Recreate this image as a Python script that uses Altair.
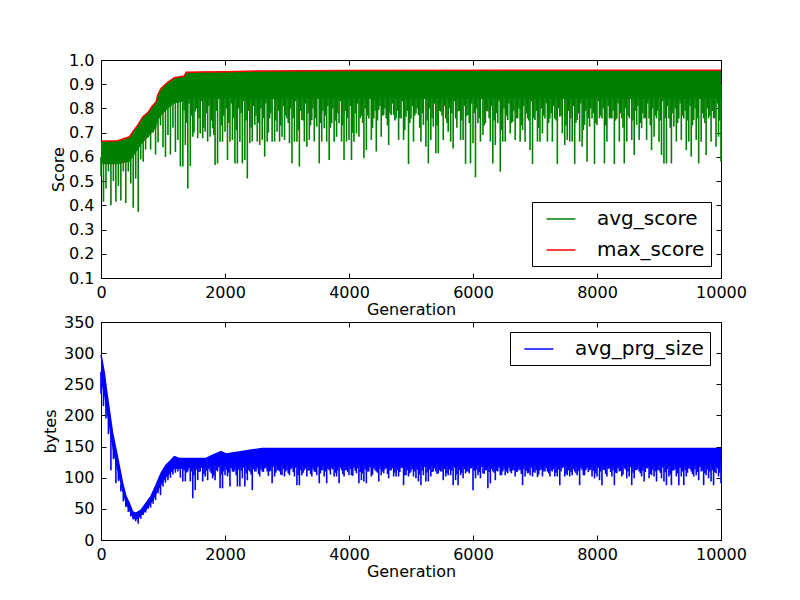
import altair as alt
import pandas as pd

# ---------------- data ----------------
x_ticks = [0, 2000, 4000, 6000, 8000, 10000]
score_ticks = [0.1, 0.2, 0.3, 0.4, 0.5, 0.6, 0.7, 0.8, 0.9, 1.0]
bytes_ticks = [0, 50, 100, 150, 200, 250, 300, 350]

# max_score curve (generation, value)
max_gen = [0, 270, 460, 515, 595, 676, 756, 820, 890, 916, 970, 1077, 1184,
           1345, 1372, 1600, 2000, 2600, 4000, 7000, 10000]
max_val = [0.665, 0.667, 0.683, 0.704, 0.732, 0.766, 0.783, 0.807, 0.828, 0.856,
           0.883, 0.908, 0.927, 0.934, 0.949, 0.950, 0.952, 0.955, 0.957, 0.958, 0.958]
# lower edge of the dense avg_score band at the same generations
avg_band_lo = [0.57, 0.57, 0.58, 0.60, 0.63, 0.66, 0.68, 0.70, 0.72, 0.75,
               0.77, 0.80, 0.82, 0.83, 0.84, 0.84, 0.84, 0.84, 0.84, 0.84, 0.84]

# avg_score downward excursions: deep ones every 40 generations,
# shallower ones in between
early_gen = list(range(0, 1281, 40))
late_gen = list(range(1320, 10001, 40))
mid_gen = list(range(1340, 9981, 40))
score_spike_early = [0.52, 0.415, 0.47, 0.54, 0.40, 0.50, 0.415, 0.48, 0.42, 0.54,
                     0.41, 0.54, 0.49, 0.39, 0.51, 0.374, 0.59, 0.58, 0.63, 0.68,
                     0.63, 0.70, 0.61, 0.66, 0.73, 0.64, 0.60, 0.69, 0.61, 0.72,
                     0.62, 0.67, 0.56]
score_spike_early_top = [0.60, 0.60, 0.60, 0.60, 0.60, 0.60, 0.60, 0.60, 0.61, 0.61,
                         0.61, 0.62, 0.62, 0.63, 0.64, 0.66, 0.68, 0.70, 0.71, 0.72,
                         0.74, 0.75, 0.76, 0.79, 0.81, 0.83, 0.84, 0.85, 0.86, 0.87,
                         0.88, 0.88, 0.89]
score_spike_late = [
    0.560, 0.649, 0.470, 0.562, 0.683, 0.787, 0.677, 0.697, 0.677, 0.704,
    0.663, 0.683, 0.718, 0.566, 0.573, 0.663, 0.663, 0.704, 0.587, 0.663,
    0.670, 0.573, 0.573, 0.663, 0.573, 0.587, 0.511, 0.656, 0.663, 0.732,
    0.663, 0.649, 0.670, 0.601, 0.663, 0.759, 0.663, 0.663, 0.704, 0.663,
    0.683, 0.670, 0.759, 0.656, 0.573, 0.663, 0.663, 0.560, 0.752, 0.663,
    0.642, 0.670, 0.752, 0.663, 0.725, 0.573, 0.663, 0.718, 0.663, 0.587,
    0.739, 0.663, 0.683, 0.739, 0.663, 0.587, 0.663, 0.670, 0.587, 0.663,
    0.697, 0.683, 0.770,
    0.594, 0.628, 0.759, 0.670, 0.759, 0.622, 0.794, 0.683, 0.773, 0.759,
    0.649, 0.773, 0.773, 0.759, 0.670, 0.759, 0.670, 0.766, 0.571, 0.759,
    0.663, 0.780, 0.773, 0.663, 0.732, 0.642, 0.573, 0.670, 0.725, 0.615,
    0.615, 0.787, 0.670, 0.759, 0.704, 0.663, 0.635, 0.759, 0.787, 0.670,
    0.670, 0.571, 0.773, 0.573, 0.656, 0.516, 0.739, 0.663, 0.690, 0.739,
    0.787, 0.663, 0.573, 0.649, 0.739, 0.539, 0.663, 0.663, 0.752, 0.697,
    0.745, 0.670, 0.759, 0.663, 0.711, 0.663, 0.759, 0.628, 0.571, 0.752,
    0.663, 0.663,
    0.697, 0.759, 0.663, 0.759, 0.663, 0.759, 0.571, 0.766, 0.697, 0.649,
    0.670, 0.663, 0.663, 0.571, 0.752, 0.663, 0.642, 0.732, 0.580, 0.725,
    0.759, 0.571, 0.732, 0.759, 0.759, 0.573, 0.663, 0.759, 0.759, 0.571,
    0.759, 0.663, 0.759, 0.573, 0.663, 0.759, 0.670, 0.608, 0.732, 0.670,
    0.718, 0.759, 0.670, 0.759, 0.628, 0.683, 0.759, 0.663, 0.608, 0.573,
    0.573, 0.759, 0.573, 0.725, 0.663, 0.759, 0.670, 0.759, 0.628, 0.663,
    0.601, 0.752, 0.670, 0.573, 0.663, 0.759, 0.608, 0.759, 0.663, 0.759,
    0.642, 0.683, 0.580]
score_spike_mid = [
    0.79, 0.74, 0.82, 0.77, 0.70, 0.80, 0.76, 0.83, 0.72, 0.78,
    0.81, 0.75, 0.69, 0.79, 0.84, 0.73, 0.77, 0.80, 0.74, 0.82,
    0.76, 0.71, 0.80, 0.78, 0.83, 0.75, 0.79, 0.72, 0.81, 0.77,
    0.74, 0.80, 0.76, 0.82, 0.70, 0.78, 0.84, 0.75, 0.79, 0.73,
    0.81, 0.77, 0.74, 0.80, 0.76, 0.83, 0.71, 0.79, 0.75, 0.82,
    0.78, 0.73, 0.80, 0.76, 0.84, 0.74, 0.79, 0.77, 0.81, 0.72,
    0.80, 0.75, 0.78, 0.83, 0.73, 0.79, 0.76, 0.81, 0.70, 0.78,
    0.82, 0.76, 0.74, 0.80, 0.77, 0.84, 0.72, 0.79, 0.75, 0.81,
    0.77, 0.80, 0.73, 0.78, 0.82, 0.75, 0.79, 0.76, 0.83, 0.71,
    0.79, 0.74, 0.81, 0.77, 0.80, 0.72, 0.78, 0.84, 0.75, 0.80,
    0.76, 0.82, 0.73, 0.79, 0.77, 0.81, 0.74, 0.80, 0.78, 0.83,
    0.72, 0.79, 0.75, 0.81, 0.77, 0.74, 0.82, 0.78, 0.80, 0.76,
    0.84, 0.73, 0.79, 0.76, 0.81, 0.75, 0.78, 0.83, 0.71, 0.80,
    0.77, 0.82, 0.74, 0.79, 0.76, 0.80, 0.73, 0.81, 0.78, 0.75,
    0.83, 0.76, 0.79, 0.72, 0.80, 0.77, 0.82, 0.74, 0.78, 0.81,
    0.75, 0.80, 0.77, 0.84, 0.73, 0.79, 0.76, 0.81, 0.74, 0.78,
    0.82, 0.71, 0.79, 0.76, 0.80, 0.78, 0.74, 0.83, 0.77, 0.80,
    0.73, 0.81, 0.76, 0.79, 0.75, 0.82, 0.78, 0.72, 0.80, 0.77,
    0.84, 0.75, 0.79, 0.81, 0.74, 0.78, 0.76, 0.82, 0.73, 0.80,
    0.77, 0.79, 0.75, 0.83, 0.76, 0.81, 0.72, 0.78, 0.80, 0.74,
    0.82, 0.77, 0.79, 0.75, 0.81, 0.73, 0.80, 0.76, 0.84, 0.78,
    0.74, 0.80, 0.77, 0.79, 0.76, 0.82, 0.75]
score_spike_late_top = 0.9

# avg_prg_size envelope (generation, upper edge, lower edge of the dense band)
prg_gen = [0, 54, 81, 134, 188, 242, 296, 349, 403, 457, 511, 564, 645, 726, 806,
           887, 968, 1048, 1129, 1183, 1263, 1425, 1694, 1801, 1935, 2016, 2200,
           2400, 2600, 10000]
prg_hi = [297, 268, 246, 209, 171, 145, 118, 91, 70, 59, 45, 43, 48, 59, 70,
          88, 107, 120, 128, 134, 131, 131, 131, 136, 142, 138, 141, 144, 147, 147]
prg_lo = [255, 230, 210, 180, 145, 120, 97, 75, 57, 46, 35, 32, 38, 47, 58,
          72, 88, 100, 108, 114, 114, 116, 117, 119, 120, 119, 119, 119, 119, 119]

prg_spike_early = [235, 215, 195, 170, 112, 130, 91, 95, 78, 62,
                   53, 45, 38, 33, 30, 26, 34, 40, 44, 50,
                   52, 58, 64, 75, 72, 86, 92, 96, 100, 105,
                   108, 110, 100]
prg_spike_early_top = [270, 250, 225, 200, 170, 150, 130, 110, 90, 75,
                       62, 52, 44, 40, 38, 40, 43, 48, 53, 60,
                       65, 73, 80, 90, 97, 105, 110, 115, 118, 122,
                       122, 122, 122]
prg_spike_late = [
    94, 94, 110, 94, 67, 80, 96, 110, 94, 102,
    96, 110, 99, 96, 110, 83, 83, 104, 102, 86,
    110, 112, 86, 86, 99, 86, 96, 110, 80, 110,
    115, 102, 110, 115, 110, 110, 91, 102, 112, 110,
    104, 102, 112, 104, 115, 102, 88, 88, 104, 112,
    102, 112, 102, 110, 104, 91, 112, 102, 91, 112,
    115, 102, 102, 91, 112, 102, 112, 104, 104, 115,
    107, 91, 96,
    94, 91, 110, 102, 115, 110, 94, 104, 107, 115,
    99, 112, 102, 102, 102, 115, 88, 104, 102, 110,
    102, 99, 94, 88, 104, 94, 94, 102, 110, 110,
    107, 110, 96, 102, 104, 104, 88, 96, 88, 104,
    99, 107, 110, 115, 80, 99, 104, 99, 107, 112,
    83, 91, 110, 96, 110, 104, 110, 104, 107, 110,
    112, 102, 110, 112, 88, 102, 107, 104, 102, 108,
    101, 112,
    102, 110, 110, 102, 110, 102, 102, 88, 115, 102,
    104, 102, 104, 110, 104, 88, 112, 104, 115, 112,
    102, 99, 102, 96, 88, 112, 102, 115, 102, 88,
    107, 110, 102, 115, 99, 102, 88, 99, 112, 110,
    102, 94, 115, 99, 104, 102, 94, 112, 99, 94,
    88, 102, 88, 112, 102, 88, 102, 88, 102, 115,
    110, 102, 104, 96, 110, 88, 104, 99, 94, 88,
    107, 102, 91]
prg_spike_mid = [
    112, 108, 115, 110, 104, 113, 109, 116, 106, 111,
    114, 107, 103, 112, 117, 105, 110, 113, 108, 115,
    109, 104, 113, 111, 116, 107, 112, 105, 114, 110,
    106, 113, 109, 115, 103, 111, 117, 108, 112, 105,
    114, 110, 107, 113, 109, 116, 104, 112, 108, 115,
    111, 106, 113, 109, 117, 107, 112, 110, 114, 105,
    113, 108, 111, 116, 106, 112, 109, 114, 103, 111,
    115, 109, 107, 113, 110, 117, 105, 112, 108, 114,
    110, 113, 106, 111, 115, 108, 112, 109, 116, 104,
    112, 107, 114, 110, 113, 105, 111, 117, 108, 113,
    109, 115, 106, 112, 110, 114, 107, 113, 111, 116,
    105, 112, 108, 114, 110, 107, 115, 111, 113, 109,
    117, 106, 112, 109, 114, 108, 111, 116, 104, 113,
    110, 115, 107, 112, 109, 113, 106, 114, 111, 108,
    116, 109, 112, 105, 113, 110, 115, 107, 111, 114,
    108, 113, 110, 117, 106, 112, 109, 114, 107, 111,
    115, 104, 112, 109, 113, 111, 107, 116, 110, 113,
    106, 114, 109, 112, 108, 115, 111, 105, 113, 110,
    117, 108, 112, 114, 107, 111, 109, 115, 106, 113,
    110, 112, 108, 116, 109, 114, 105, 111, 113, 107,
    115, 110, 112, 108, 114, 106, 113, 109, 117, 111,
    107, 113, 110, 112, 109, 115, 108]
prg_spike_late_top = 125

# ---------------- chart ----------------
W, H = 620, 218
GREEN, RED, BLUE = "#008000", "#ff0000", "#0000ff"
FONT = "DejaVu Sans"
SPIKE_W = 1.6

xs = alt.Scale(domain=[0, 10000], nice=False, zero=False)
ys_score = alt.Scale(domain=[0.1, 1.0], nice=False, zero=False)
ys_bytes = alt.Scale(domain=[0, 350], nice=False, zero=False)


def main_x():
    return alt.Axis(values=x_ticks, format="d", title="Generation", ticks=False,
                    tickSize=0, domain=False, grid=False, labelPadding=6,
                    titlePadding=1, labelFlush=False, labelOverlap=False)


def tick_layers(df, xf, yf, ys, xvals, yvals):
    layers = []
    for xo, yo in (("top", "right"), ("bottom", "left")):
        layers.append(
            alt.Chart(df).mark_line(opacity=0).encode(
                x=alt.X(xf, type="quantitative", scale=xs,
                        axis=alt.Axis(orient=xo, offset=-H, values=xvals, labels=False,
                                      domain=False, ticks=True, tickSize=5,
                                      tickColor="black", tickWidth=1, grid=False,
                                      title=None)),
                y=alt.Y(yf, type="quantitative", scale=ys,
                        axis=alt.Axis(orient=yo, offset=-W, values=yvals, labels=False,
                                      domain=False, ticks=True, tickSize=5,
                                      tickColor="black", tickWidth=1, grid=False,
                                      title=None)),
            )
        )
    return layers


def spikes(df, color, ys, top):
    return alt.Chart(df).mark_rule(color=color, strokeWidth=SPIKE_W).encode(
        x=alt.X("gen:Q", scale=xs, axis=None),
        y=alt.Y("val:Q", scale=ys, axis=None),
        y2=top,
    )


def legend(x, y):
    return alt.Legend(orient="none", legendX=x, legendY=y, title=None,
                      labelFontSize=20, labelFont=FONT, labelColor="black",
                      symbolType="M-0.26,0H2.64", symbolSize=400,
                      symbolStrokeWidth=1.5, strokeColor="black",
                      fillColor="white", padding=6, rowPadding=10,
                      labelOffset=37, cornerRadius=0)


# ---- top panel ----
band_df = pd.DataFrame({"gen": max_gen, "hi": max_val, "lo": avg_band_lo,
                        "series": ["max_score"] * len(max_gen)})
early_df = pd.DataFrame({"gen": early_gen, "val": score_spike_early,
                         "top": score_spike_early_top})
late_df = pd.DataFrame({"gen": late_gen, "val": score_spike_late})
mid_df = pd.DataFrame({"gen": mid_gen, "val": score_spike_mid})

top_band = alt.Chart(band_df).mark_area(color=GREEN, opacity=1).encode(
    x=alt.X("gen:Q", scale=xs, axis=main_x()),
    y=alt.Y("hi:Q", scale=ys_score,
            axis=alt.Axis(values=score_ticks, format=".1f", title="Score",
                          ticks=False, tickSize=0, domain=False, grid=False,
                          labelPadding=7, titlePadding=2, labelFlush=False,
                          labelOverlap=False)),
    y2="lo:Q",
)
top_max = alt.Chart(band_df).mark_line(strokeWidth=1.5).encode(
    x=alt.X("gen:Q", scale=xs, axis=None),
    y=alt.Y("hi:Q", scale=ys_score, axis=None),
    color=alt.Color("series:N",
                    scale=alt.Scale(domain=["avg_score", "max_score"], range=[GREEN, RED]),
                    legend=legend(431, 142)),
)
top = alt.layer(top_band,
                spikes(early_df, GREEN, ys_score, "top:Q"),
                spikes(mid_df, GREEN, ys_score, alt.datum(score_spike_late_top)),
                spikes(late_df, GREEN, ys_score, alt.datum(score_spike_late_top)),
                top_max,
                *tick_layers(band_df, "gen", "hi", ys_score, x_ticks, score_ticks)
                ).resolve_axis(x="independent", y="independent").properties(width=W, height=H)

# ---- bottom panel ----
prg_df = pd.DataFrame({"gen": prg_gen, "hi": prg_hi, "lo": prg_lo,
                       "series": ["avg_prg_size"] * len(prg_gen)})
pearly_df = pd.DataFrame({"gen": early_gen, "val": prg_spike_early,
                          "top": prg_spike_early_top})
plate_df = pd.DataFrame({"gen": late_gen, "val": prg_spike_late})
pmid_df = pd.DataFrame({"gen": mid_gen, "val": prg_spike_mid})

bot_band = alt.Chart(prg_df).mark_area(color=BLUE, opacity=1).encode(
    x=alt.X("gen:Q", scale=xs, axis=main_x()),
    y=alt.Y("hi:Q", scale=ys_bytes,
            axis=alt.Axis(values=bytes_ticks, format="d", title="bytes",
                          ticks=False, tickSize=0, domain=False, grid=False,
                          labelPadding=7, titlePadding=5, labelFlush=False,
                          labelOverlap=False)),
    y2="lo:Q",
)
bot_line = alt.Chart(prg_df).mark_line(strokeWidth=1.5).encode(
    x=alt.X("gen:Q", scale=xs, axis=None),
    y=alt.Y("hi:Q", scale=ys_bytes, axis=None),
    color=alt.Color("series:N",
                    scale=alt.Scale(domain=["avg_prg_size"], range=[BLUE]),
                    legend=legend(409, 10)),
)
bottom = alt.layer(bot_band,
                   spikes(pearly_df, BLUE, ys_bytes, "top:Q"),
                   spikes(pmid_df, BLUE, ys_bytes, alt.datum(prg_spike_late_top)),
                   spikes(plate_df, BLUE, ys_bytes, alt.datum(prg_spike_late_top)),
                   bot_line,
                   *tick_layers(prg_df, "gen", "hi", ys_bytes, x_ticks, bytes_ticks)
                   ).resolve_axis(x="independent", y="independent").properties(width=W, height=H)

chart = alt.vconcat(top, bottom, spacing=44, bounds="flush").resolve_scale(
    color="independent").resolve_legend(color="independent").properties(
    padding={"left": 33, "top": 43, "right": 10, "bottom": 10},
    background="white",
).configure(font=FONT).configure_view(stroke="black", strokeWidth=1).configure_axis(
    labelFontSize=16, titleFontSize=16, labelColor="black", titleColor="black",
    titleFontWeight="normal", labelFont=FONT, titleFont=FONT)

chart.save("out.html", embed_options={"renderer": "svg", "actions": False})
